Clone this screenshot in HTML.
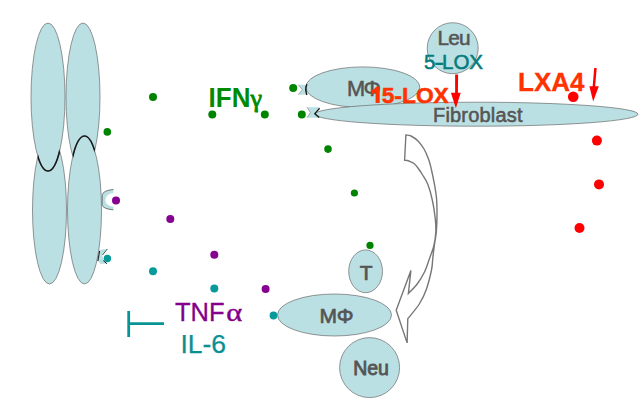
<!DOCTYPE html>
<html><head><meta charset="utf-8">
<style>
html,body{margin:0;padding:0;background:#fff;width:640px;height:400px;overflow:hidden;}
svg{display:block;}
text{font-family:"Liberation Sans",sans-serif;}
</style></head>
<body>
<svg width="640" height="400" viewBox="0 0 640 400">
<defs>
  <clipPath id="cL"><ellipse cx="49.5" cy="210" rx="17" ry="74"/></clipPath>
  <clipPath id="cR"><ellipse cx="83" cy="97" rx="17" ry="74"/></clipPath>
</defs>
<g fill="#bbe0e3" stroke="#606060" stroke-width="0.65">
  <!-- left column: lower behind, upper in front -->
  <ellipse cx="49.5" cy="210" rx="17" ry="74"/>
  <ellipse cx="48" cy="97" rx="17" ry="74"/>
  <!-- right column: upper behind, lower in front -->
  <ellipse cx="83" cy="97" rx="17" ry="74"/>
  <ellipse cx="84.5" cy="210" rx="17" ry="74"/>
</g>
<g fill="none" stroke="#1a1a1a" stroke-width="1.7">
  <ellipse cx="48" cy="97" rx="17" ry="74" clip-path="url(#cL)"/>
  <ellipse cx="84.5" cy="210" rx="17" ry="74" clip-path="url(#cR)"/>
</g>

<!-- receptors on chromosome -->
<path d="M113.4,189.5 L113.4,193.3 A7.8,6.6 0 0 0 113.4,206.5 L113.4,209.8 C107,209.3 102.2,207.5 102.2,204.5 L102.2,195.5 C102.2,192.2 107,190 113.4,189.5 Z" fill="#bbe0e3"/>
<path d="M113.4,189.5 C107,190 102.2,192.2 102.2,195.5 L102.2,204.5 C102.2,207.5 107,209.3 113.4,209.8" fill="none" stroke="#555" stroke-width="0.8"/>
<path d="M113.4,193.3 A7.8,6.6 0 0 0 113.4,206.5" fill="none" stroke="#fff" stroke-width="0.6" opacity="0.7"/>
<path d="M99.5,251 L101.5,249.6 L107.3,249 L102.5,255 Q102,260.5 107,263.6 L100.8,264 L97.8,261 Z" fill="#bbe0e3"/>
<path d="M99.6,250.8 L97.9,261" fill="none" stroke="#222" stroke-width="1.1"/>
<path d="M107.3,249 L102.5,255" fill="none" stroke="#333" stroke-width="0.8"/>
<path d="M103.2,260.5 L107,263.8" fill="none" stroke="#222" stroke-width="1"/>

<!-- green dots -->
<g fill="#008400">
  <circle cx="153" cy="96.9" r="4"/>
  <circle cx="107.3" cy="131.9" r="3.8"/>
  <circle cx="212.3" cy="114.4" r="4"/>
  <circle cx="264.8" cy="114.4" r="4"/>
  <circle cx="293.2" cy="88.1" r="4"/>
  <circle cx="301.8" cy="114.5" r="4"/>
  <circle cx="328" cy="149.1" r="3.8"/>
  <circle cx="354.4" cy="193" r="3.6"/>
  <circle cx="370" cy="245.4" r="3.6"/>
</g>
<!-- purple dots -->
<g fill="#860092">
  <circle cx="116" cy="200.4" r="4"/>
  <circle cx="170.3" cy="218.9" r="4"/>
  <circle cx="214.3" cy="254.8" r="4"/>
  <circle cx="265.6" cy="289" r="4"/>
</g>
<!-- teal dots -->
<g fill="#079a9a">
  <circle cx="107.4" cy="258.5" r="3.7"/>
  <circle cx="153" cy="271.2" r="4"/>
  <circle cx="214.3" cy="288.4" r="4"/>
  <circle cx="273.5" cy="315.5" r="3.9"/>
</g>
<!-- red dots -->
<g fill="#ff0000">
  <circle cx="573.2" cy="96.7" r="5.3"/>
  <circle cx="596.9" cy="140.6" r="5"/>
  <circle cx="599" cy="184.4" r="5"/>
  <circle cx="579.5" cy="228" r="5"/>
</g>

<!-- IFNg -->
<text x="208.6" y="107" font-size="27.5" font-weight="bold" fill="#008a00" textLength="41.8" lengthAdjust="spacingAndGlyphs">IFN</text><text x="250.5" y="106.8" font-size="26" style="font-family:'Liberation Serif',serif" fill="#008a00" stroke="#008a00" stroke-width="0.9">γ</text>

<!-- receptors on MPhi and fibroblast -->
<path d="M298.3,84.7 L307,84.7 L307,94.7 L298.3,94.7 L302.4,89.7 Z" fill="#bbe0e3"/>
<path d="M298.3,84.7 L302.4,89.7 L298.3,94.7" fill="none" stroke="#777" stroke-width="0.6"/>
<path d="M307,107.3 L319.6,107.3 L315,112.5 L319.6,117.7 L307,117.7 L310.4,112.5 Z" fill="#bbe0e3"/>
<path d="M307,107.3 L310.4,112.5 L307,117.7" fill="none" stroke="#777" stroke-width="0.6"/>

<!-- MPhi upper -->
<ellipse cx="362.8" cy="87.2" rx="57" ry="20.3" fill="#bbe0e3" stroke="#606060" stroke-width="0.65"/>
<path d="M306.9,84.3 Q304.7,89.5 306.9,94.9" fill="none" stroke="#1a1a1a" stroke-width="1.4"/>
<text x="347" y="95.6" font-size="21.8" fill="#555" stroke="#555" stroke-width="0.55" textLength="34" lengthAdjust="spacing">MΦ</text>

<!-- Fibroblast -->
<ellipse cx="476.5" cy="114.2" rx="161.5" ry="12" fill="#bbe0e3" stroke="#606060" stroke-width="0.65"/>
<path d="M319.6,108.2 L314.8,113.6 L319.2,117.6" fill="none" stroke="#1a1a1a" stroke-width="1.3"/>
<text x="433" y="122" font-size="20" fill="#555" stroke="#555" stroke-width="0.55" textLength="89.5" lengthAdjust="spacing">Fibroblast</text>

<!-- Leu circle -->
<circle cx="452.7" cy="48.2" r="25.5" fill="#bbe0e3" stroke="#606060" stroke-width="0.65"/>
<text x="437.4" y="44.5" font-size="20.8" fill="#555" stroke="#555" stroke-width="0.55" textLength="33.2" lengthAdjust="spacing">Leu</text>
<text x="424" y="68.7" font-size="20.5" fill="#057c7c" stroke="#057c7c" stroke-width="0.55">5<tspan dx="6.6">LOX</tspan></text><rect x="435.3" y="62.7" width="8" height="2.3" fill="#057c7c"/>

<!-- 15-LOX -->
<path d="M375.6,86.8 L379.7,86.8 L379.7,102.9 L375.6,102.9 L375.6,92.6 Q373.8,93.6 371.6,94.3 L371.6,90.6 Q374.4,89.3 376.2,86.8 Z" fill="#ff3300"/><text x="381.7" y="102.9" font-size="22.8" font-weight="bold" fill="#ff3300" stroke="#ff3300" stroke-width="0.5">5-LOX</text>
<!-- LXA4 -->
<text x="518" y="91.2" font-size="26" font-weight="bold" fill="#ff3300" stroke="#ff3300" stroke-width="0.3">LXA4</text>

<!-- red arrows -->
<g fill="#ff0000" stroke="none">
  <path d="M455.1,74.5 L458.1,74.5 L457.9,94 L455.1,94 Z"/>
  <path d="M450.9,92.8 L460.7,92.8 L455.9,108.2 Z"/>
  <path d="M594.2,68 L596.7,68 L595,88 L592.5,88 Z"/>
  <path d="M589.4,86.2 L598.8,86.2 L593.2,101.4 Z"/>
</g>

<!-- curved arrow -->
<path d="M405.9,135 C406.8,135.2 409.0,135.0 411.0,136.0 C413.0,137.0 415.8,138.8 418.0,141.0 C420.2,143.2 422.2,146.0 424.0,149.0 C425.8,152.0 427.2,155.5 428.5,159.0 C429.8,162.5 430.5,165.6 431.5,170.0 C432.5,174.4 433.9,181.0 434.7,185.7 C435.5,190.4 436.1,193.4 436.5,198.0 C436.9,202.6 437.0,208.0 437.0,213.5 C437.0,219.0 436.8,225.8 436.4,231.0 C436.0,236.2 435.0,240.5 434.4,245.0 C433.8,249.5 433.3,253.8 432.8,258.0 C432.3,262.2 432.6,264.8 431.5,270.0 C430.4,275.2 428.5,283.3 426.5,289.0 C424.5,294.7 422.4,299.1 419.3,304.0 C416.2,308.9 409.7,316.2 407.8,318.7 L407.1,342.9 L396.2,310.3 L410.9,270.4 L408.4,293.5 C409.9,291.9 414.5,287.6 417.2,284.0 C419.9,280.4 422.4,276.3 424.5,272.0 C426.6,267.7 428.1,262.3 429.7,258.0 C431.2,253.7 432.8,250.3 433.8,246.0 C434.8,241.7 435.6,236.7 435.8,232.0 C436.0,227.3 435.8,223.3 435.2,218.0 C434.6,212.7 433.6,205.7 432.3,200.0 C431.1,194.3 429.4,188.3 427.7,184.0 C426.0,179.7 423.6,176.7 422.0,174.0 C420.4,171.3 419.3,169.8 418.0,168.0 C416.7,166.2 415.5,164.7 414.0,163.5 C412.5,162.3 410.6,161.6 409.0,161.0 C407.4,160.4 405.3,160.3 404.6,160.2 Z" fill="#fff" stroke="#777" stroke-width="1.4" stroke-linejoin="miter"/>

<!-- bottom cells -->
<ellipse cx="365.6" cy="271.3" rx="16.9" ry="21.4" fill="#bbe0e3" stroke="#606060" stroke-width="0.65"/>
<text x="359.7" y="279.5" font-size="21" fill="#555" stroke="#555" stroke-width="0.7">T</text>
<ellipse cx="334.5" cy="315" rx="57" ry="21" fill="#bbe0e3" stroke="#606060" stroke-width="0.65"/>
<text x="319.4" y="322.9" font-size="21" fill="#555" stroke="#555" stroke-width="0.7" textLength="34" lengthAdjust="spacing">MΦ</text>
<circle cx="369.6" cy="367.6" r="30" fill="#bbe0e3" stroke="#606060" stroke-width="0.65"/>
<text x="353.2" y="375.2" font-size="19.5" fill="#555" stroke="#555" stroke-width="0.85">Neu</text>

<!-- TNFa / IL-6 -->
<text x="175" y="321.2" font-size="25.5" fill="#84008a" stroke="#84008a" stroke-width="0.3">TNF</text><text transform="translate(226.3,321.2) scale(1.22,1)" x="0" y="0" font-size="25" style="font-family:'Liberation Serif',serif" fill="#84008a" stroke="#84008a" stroke-width="0.4">α</text>
<text x="180.4" y="353" font-size="26.5" fill="#089090" stroke="#089090" stroke-width="0.25">IL-6</text>
<g stroke="#089494" stroke-width="2.8" fill="none">
  <line x1="128.7" y1="311" x2="128.7" y2="337"/>
  <line x1="128.7" y1="323.7" x2="164" y2="323.7"/>
</g>
</svg>
</body></html>
